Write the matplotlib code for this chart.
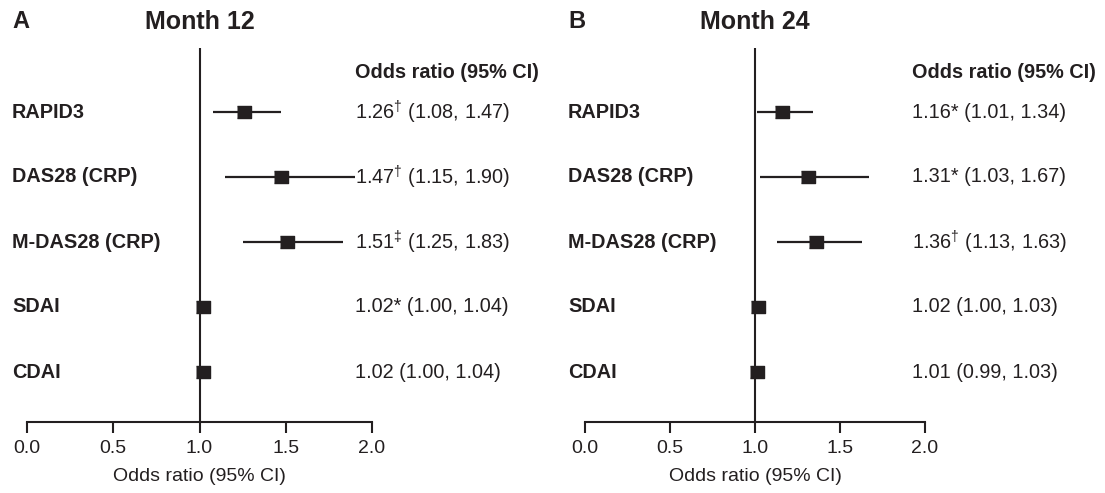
import numpy as np
import matplotlib
matplotlib.use('Agg')
import matplotlib.pyplot as plt
from matplotlib.transforms import blended_transform_factory

plt.rcParams['font.family'] = ['Liberation Sans', 'DejaVu Sans']
plt.rcParams['mathtext.fontset'] = 'custom'
plt.rcParams['mathtext.rm'] = 'Liberation Sans'
plt.rcParams['mathtext.it'] = 'Liberation Sans'

labels = ['RAPID3', 'DAS28 (CRP)', 'M-DAS28 (CRP)', 'SDAI', 'CDAI']

or12 = [1.26, 1.47, 1.51, 1.02, 1.02]
lo12 = [1.08, 1.15, 1.25, 1.00, 1.00]
hi12 = [1.47, 1.90, 1.83, 1.04, 1.04]
sig12 = ['\u2020', '\u2020', '\u2021', '*', '']

or24 = [1.16, 1.31, 1.36, 1.02, 1.01]
lo24 = [1.01, 1.03, 1.13, 1.00, 0.99]
hi24 = [1.34, 1.67, 1.63, 1.03, 1.03]
sig24 = ['*', '*', '\u2020', '', '']

xticks = [0.0, 0.5, 1.0, 1.5, 2.0]

W, H = 1105, 493
fig = plt.figure(figsize=(W / 100, H / 100), dpi=100)
dark = '#231f20'
rect = [(-1, -0.78), (1, -0.78), (1, 0.78), (-1, 0.78)]
fs = 14.3
BASE = 422  # pixel row of the x axis line
TOP = 48    # top of the reference line at OR = 1


def panel(x0, x2, letter, title, ors, los, his, sigs, lab_x, txt_x):
    ax = fig.add_axes([x0 / W, (H - BASE) / H, (x2 - x0) / W, (BASE - TOP) / H])
    ax.set_xlim(0, 2)
    ax.set_ylim((BASE - 112) / 65, (TOP - 112) / 65)
    for s in ['top', 'right', 'left']:
        ax.spines[s].set_visible(False)
    ax.spines['bottom'].set_linewidth(1.5)
    ax.spines['bottom'].set_color(dark)
    ax.set_yticks([])
    ax.set_xticks(xticks)
    ax.set_xticklabels(['%.1f' % t for t in xticks])
    ax.tick_params(axis='x', length=8, width=1.5, color=dark, labelsize=14,
                   labelcolor=dark, pad=5)
    ax.axvline(1.0, color=dark, lw=1.5, zorder=1)
    ax.set_xlabel('Odds ratio (95% CI)', fontsize=14, color=dark, labelpad=8)

    y = np.arange(len(ors))
    ax.hlines(y, los, his, color=dark, lw=1.6, zorder=2)
    ax.plot(ors, y, ls='none', marker=rect, ms=10.5, color=dark, zorder=3)

    tr = blended_transform_factory(fig.transFigure, ax.transData)
    for i, lab in enumerate(labels):
        ax.text(lab_x / W, i, lab, transform=tr, fontsize=fs, fontweight='bold',
                color=dark, va='center', ha='left', clip_on=False)
        if sigs[i] in ('\u2020', '\u2021'):
            sup = '$^{%s}$' % sigs[i]
        else:
            sup = sigs[i]
        ax.text(txt_x / W, i, '%.2f%s (%.2f, %.2f)' % (ors[i], sup, los[i], his[i]),
                transform=tr, fontsize=fs, color=dark, va='center', ha='left',
                clip_on=False)
    ax.text(txt_x / W, (72 - 112) / 65, 'Odds ratio (95% CI)', transform=tr,
            fontsize=fs, fontweight='bold', color=dark, va='center', ha='left',
            clip_on=False)

    fig.text(lab_x / W, 1 - 22 / H, letter, fontsize=17, fontweight='bold',
             color=dark, va='center', ha='left')
    fig.text((x0 + x2) / 2 / W, 1 - 22 / H, title, fontsize=18, fontweight='bold',
             color=dark, va='center', ha='center')
    return ax


panel(27, 372, 'A', 'Month 12', or12, lo12, hi12, sig12, 12, 355)
panel(585, 925, 'B', 'Month 24', or24, lo24, hi24, sig24, 568, 912)

fig.savefig('out.png', dpi=100)
